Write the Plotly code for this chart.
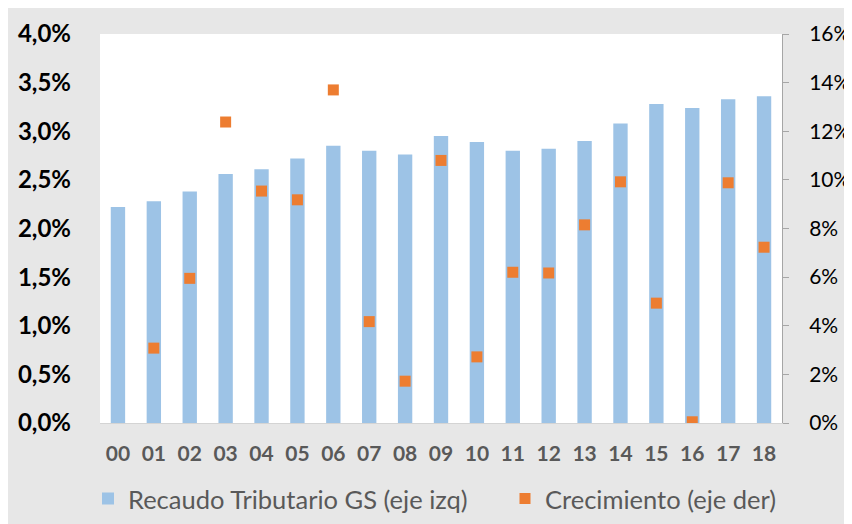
import plotly.graph_objects as go

years = ["00", "01", "02", "03", "04", "05", "06", "07", "08", "09",
         "10", "11", "12", "13", "14", "15", "16", "17", "18"]
recaudo = [0.0222, 0.0228, 0.0238, 0.0256, 0.0261, 0.0272, 0.0285, 0.0280, 0.0276, 0.0295,
           0.0289, 0.0280, 0.0282, 0.0290, 0.0308, 0.0328, 0.0324, 0.0333, 0.0336]
crecimiento = [None, 0.0308, 0.0595, 0.1238, 0.0954, 0.0918, 0.1370, 0.0417, 0.0172, 0.1080,
               0.0272, 0.0620, 0.0617, 0.0815, 0.0992, 0.0493, 0.0005, 0.0988, 0.0723]
left_ticks = [0, 0.005, 0.01, 0.015, 0.02, 0.025, 0.03, 0.035, 0.04]
right_ticks = [0, 0.02, 0.04, 0.06, 0.08, 0.10, 0.12, 0.14, 0.16]

# page has an 8px body margin, so the figure sits at (8, 8)
W, H = 844, 516
L, R, T, B = 92, 70, 26, 101
pw, ph = W - L - R, H - T - B

fig = go.Figure()
fig.add_trace(go.Bar(
    x=years, y=recaudo, name="Recaudo Tributario GS (eje izq)",
    marker=dict(color="#9DC3E6", line=dict(width=0)), width=0.4, yaxis="y",
    legend="legend"))
fig.add_trace(go.Scatter(
    x=years, y=crecimiento, name="Crecimiento (eje der)", mode="markers",
    marker=dict(symbol="square", size=11, color="#ED7D31", line=dict(width=0)),
    yaxis="y2", legend="legend2"))

leg_font = dict(family="Lato", size=25.5, color="#595959")
leg_y = (T + ph - 491) / ph
fig.update_layout(
    width=W, height=H,
    margin=dict(l=L, r=R, t=T, b=B, pad=0, autoexpand=False),
    paper_bgcolor="#e7e7e7", plot_bgcolor="white",
    separators=", ",
    showlegend=True,
    xaxis=dict(type="category", range=[-0.5, len(years) - 0.5], showgrid=False,
               showline=True, linecolor="#d4d4d4",
               linewidth=1, ticks="", ticklabelstandoff=12,
               tickfont=dict(family="Lato", size=21, color="#595959", weight="bold")),
    yaxis=dict(range=[0, 0.04], tickvals=left_ticks, tickformat=".1%", showgrid=False,
               zeroline=False, showline=False, ticks="", ticklabelstandoff=28,
               tickfont=dict(family="Lato", size=24, color="black", weight="bold")),
    yaxis2=dict(range=[0, 0.16], tickvals=right_ticks, tickformat=".0%", overlaying="y",
                side="right", showgrid=False, zeroline=False, showline=True,
                linecolor="#a6a6a6", linewidth=1, ticks="outside", ticklen=6,
                tickcolor="#a6a6a6", ticklabelstandoff=16,
                tickfont=dict(family="Lato", size=21, color="black")),
    legend=dict(orientation="h", x=(80 - L) / pw, xanchor="left", y=leg_y,
                yanchor="middle", font=leg_font, bgcolor="rgba(0,0,0,0)"),
    legend2=dict(orientation="h", x=(497 - L) / pw, xanchor="left", y=leg_y,
                 yanchor="middle", font=leg_font, bgcolor="rgba(0,0,0,0)"),
)

fig.write_html("out.html")
